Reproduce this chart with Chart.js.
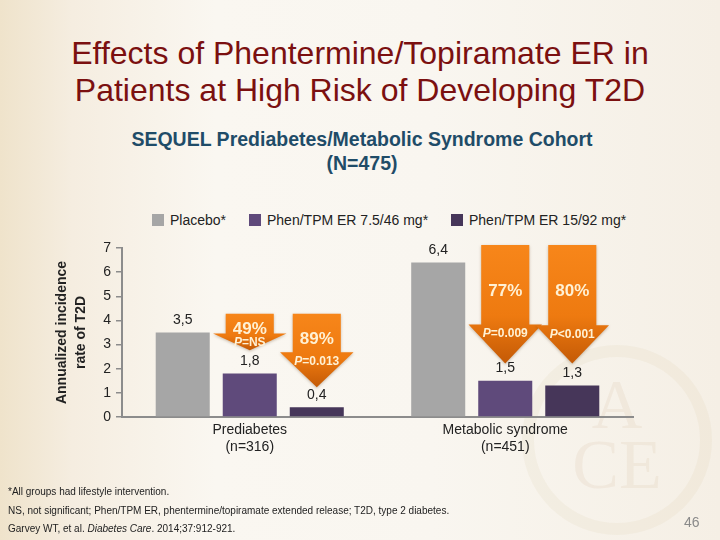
<!DOCTYPE html>
<html>
<head>
<meta charset="utf-8">
<title>Phentermine/Topiramate ER - SEQUEL</title>
<script src="https://cdn.jsdelivr.net/npm/chart.js"></script>
<style>
  html, body { margin: 0; padding: 0; }
  body {
    width: 720px; height: 540px; position: relative; overflow: hidden;
    font-family: "Liberation Sans", Arial, sans-serif;
    background: linear-gradient(90deg, #efe3cb 0%, #f5ede0 10%, #faf7f1 30%, #f9f6f0 60%, #f5efe5 100%);
  }
  .abs { position: absolute; }
  #title {
    left: 0; top: 35px; width: 720px; text-align: center;
    font-size: 32px; line-height: 37px; color: #7b1010;
  }
  #subtitle {
    left: 0; top: 127px; width: 724px; text-align: center;
    font-size: 19.5px; line-height: 24px; font-weight: bold; color: #1f4c68;
  }
  #legend { left: 0; top: 211px; width: 720px; height: 18px; font-size: 14px; color: #222; }
  #legend .item { position: absolute; top: 0; height: 18px; line-height: 18px; white-space: nowrap; }
  #legend .box { display: inline-block; width: 12px; height: 12px; vertical-align: -1px; margin-right: 6px; }
  #seal {
    left: 522px; top: 345px; width: 190px; height: 190px; border-radius: 50%;
    border: 12px solid rgba(214, 190, 150, 0.11); box-sizing: border-box;
    font-family: "Liberation Serif", serif; color: rgba(205, 180, 140, 0.14);
    text-align: center; font-size: 70px; line-height: 60px; padding-top: 18px;
  }
  #notes { left: 8px; top: 483px; font-size: 10px; line-height: 18.5px; color: #222; }
  #page { left: 684px; top: 514px; font-size: 14px; color: #8a8a8a; }
  canvas { position: absolute; left: 0; top: 0; }
</style>
</head>
<body>
<div id="seal" class="abs">A<br>CE</div>
<div id="title" class="abs">Effects of Phentermine/Topiramate ER in<br>Patients at High Risk of Developing T2D</div>
<div id="subtitle" class="abs">SEQUEL Prediabetes/Metabolic Syndrome Cohort<br>(N=475)</div>
<div id="legend" class="abs"></div>
<canvas id="chart" width="720" height="540"></canvas>
<div id="notes" class="abs">
  *All groups had lifestyle intervention.<br>
  NS, not significant; Phen/TPM ER, phentermine/topiramate extended release; T2D, type 2 diabetes.<br>
  Garvey WT, et al. <i>Diabetes Care</i>. 2014;37:912-921.
</div>
<div id="page" class="abs">46</div>

<script>
// ---------- data ----------
const categories = [['Prediabetes', '(n=316)'], ['Metabolic syndrome', '(n=451)']];
const seriesNames = ['Placebo*', 'Phen/TPM ER 7.5/46 mg*', 'Phen/TPM ER 15/92 mg*'];
const placebo = [3.5, 6.4];
const phen7 = [1.8, 1.5];
const phen15 = [0.4, 1.3];
const yTicks = [0, 1, 2, 3, 4, 5, 6, 7];

// reduction arrows: which bar they point to, text, and extent in y units
const arrowSeries = [1, 2, 1, 2];
const arrowCategory = [0, 0, 1, 1];
const arrowPct = ['49%', '89%', '77%', '80%'];
const arrowP = ['=NS', '=0.013', '=0.009', '<0.001'];
const arrowTop = [4.28, 4.28, 7.12, 7.12];
const arrowHead = [3.46, 2.68, 3.83, 3.80];
const arrowTip = [2.76, 1.23, 2.22, 2.22];

// ---------- styles ----------
const colors = ['#a6a6a6', '#5f4a7b', '#463659'];
const legendX = [152, 249, 451];
const axisColor = '#8c8c8c';
const FONT = '"Liberation Sans", Arial, sans-serif';

// ---------- legend (html) ----------
const legend = document.getElementById('legend');
seriesNames.forEach((name, i) => {
    const item = document.createElement('div');
    item.className = 'item';
    item.style.left = legendX[i] + 'px';
    item.innerHTML = '<span class="box" style="background:' + colors[i] + '"></span>' + name;
    legend.appendChild(item);
});

// ---------- plugins ----------
const valueLabels = {
    id: 'valueLabels',
    afterDatasetsDraw(chart) {
        const ctx = chart.ctx;
        ctx.save();
        ctx.font = '14px ' + FONT;
        ctx.fillStyle = '#222';
        ctx.textAlign = 'center';
        ctx.textBaseline = 'middle';
        chart.data.datasets.forEach((ds, i) => {
            chart.getDatasetMeta(i).data.forEach((bar, j) => {
                ctx.fillText(ds.data[j].toFixed(1).replace('.', ','), bar.x, bar.y - 12.5);
            });
        });
        ctx.restore();
    }
};

const arrows = {
    id: 'arrows',
    afterDatasetsDraw(chart) {
        const ctx = chart.ctx;
        const y = chart.scales.y;
        arrowPct.forEach((pct, k) => {
            const bar = chart.getDatasetMeta(arrowSeries[k]).data[arrowCategory[k]];
            const cx = bar.x;
            const sh = bar.width * 0.445;
            const hh = bar.width * 0.68;
            const yTop = y.getPixelForValue(arrowTop[k]);
            const yHead = y.getPixelForValue(arrowHead[k]);
            const yTip = y.getPixelForValue(arrowTip[k]);

            ctx.save();
            const g = ctx.createLinearGradient(0, yTop, 0, yTip);
            g.addColorStop(0, '#f7861a');
            g.addColorStop(0.6, '#ee7a10');
            g.addColorStop(1, '#c45a06');
            ctx.fillStyle = g;
            ctx.shadowColor = 'rgba(80,40,0,0.3)';
            ctx.shadowBlur = 3;
            ctx.shadowOffsetY = 1;
            ctx.beginPath();
            ctx.moveTo(cx - sh, yTop);
            ctx.lineTo(cx + sh, yTop);
            ctx.lineTo(cx + sh, yHead);
            ctx.lineTo(cx + hh, yHead);
            ctx.lineTo(cx, yTip);
            ctx.lineTo(cx - hh, yHead);
            ctx.lineTo(cx - sh, yHead);
            ctx.closePath();
            ctx.fill();
            ctx.restore();

            ctx.save();
            ctx.fillStyle = '#fff1d4';
            ctx.textBaseline = 'middle';
            ctx.textAlign = 'center';
            ctx.font = 'bold 17px ' + FONT;
            ctx.fillText(pct, cx, (yTop + yHead) / 2 + 6);
            // P value with italic P
            ctx.textAlign = 'left';
            ctx.font = 'italic bold 12px ' + FONT;
            const wP = ctx.measureText('P').width;
            ctx.font = 'bold 12px ' + FONT;
            const wR = ctx.measureText(arrowP[k]).width;
            const x0 = cx - (wP + wR) / 2;
            const ty = yHead + 9;
            ctx.font = 'italic bold 12px ' + FONT;
            ctx.fillText('P', x0, ty);
            ctx.font = 'bold 12px ' + FONT;
            ctx.fillText(arrowP[k], x0 + wP, ty);
            ctx.restore();
        });
    }
};

// ---------- chart ----------
new Chart(document.getElementById('chart'), {
    type: 'bar',
    data: {
        labels: categories,
        datasets: [placebo, phen7, phen15].map((d, i) => ({
            label: seriesNames[i],
            data: d,
            backgroundColor: colors[i],
            borderWidth: 0,
            categoryPercentage: 0.787,
            barPercentage: 0.806
        }))
    },
    options: {
        responsive: false,
        animation: false,
        devicePixelRatio: 1,
        layout: { padding: { left: 0, top: 248, right: 87, bottom: 0 } },
        plugins: {
            legend: { display: false },
            tooltip: { enabled: false }
        },
        scales: {
            x: {
                grid: { display: false, drawTicks: false },
                border: { display: true, color: axisColor, width: 2 },
                ticks: { color: '#222', padding: 5, font: { family: FONT, size: 14, lineHeight: 1.2 } },
                afterFit: s => { s.height = 123; }
            },
            y: {
                min: yTicks[0],
                max: yTicks[yTicks.length - 1],
                afterBuildTicks: s => { s.ticks = yTicks.map(v => ({ value: v })); },
                grid: { drawOnChartArea: false, drawTicks: true, tickLength: 6, color: axisColor, lineWidth: 1.5 },
                border: { color: axisColor, width: 2 },
                ticks: { color: '#222', padding: 5, font: { family: FONT, size: 14 } },
                title: {
                    display: true,
                    text: ['Annualized incidence', 'rate of T2D'],
                    color: '#222',
                    font: { family: FONT, size: 14, weight: 'bold', lineHeight: 1.4 },
                    padding: { top: 52, bottom: 0 }
                },
                afterFit: s => { s.width = 122; }
            }
        }
    },
    plugins: [valueLabels, arrows]
});
</script>
</body>
</html>
